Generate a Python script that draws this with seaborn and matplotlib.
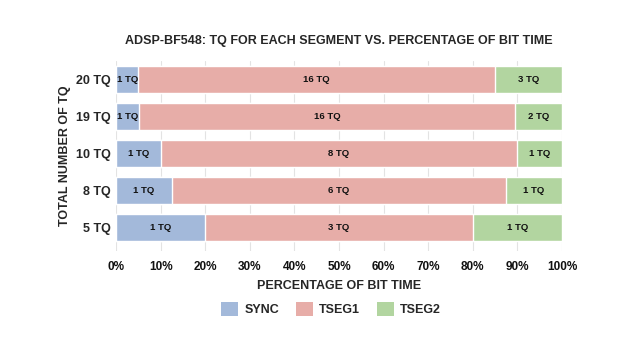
import matplotlib
matplotlib.use("Agg")
import matplotlib.pyplot as plt
import seaborn as sns
import pandas as pd
import numpy as np
from matplotlib.patches import Patch

categories = ["20 TQ", "19 TQ", "10 TQ", "8 TQ", "5 TQ"]
total_tq = [20, 19, 10, 8, 5]
sync_tq = [1, 1, 1, 1, 1]
tseg1_tq = [16, 16, 8, 6, 3]
tseg2_tq = [3, 2, 1, 1, 1]
series_names = ["SYNC", "TSEG1", "TSEG2"]
colors = ["#A3B9DA", "#E7ADA8", "#B2D5A0"]

sns.set_theme(style="white")
plt.rcParams["font.family"] = ["Liberation Sans", "DejaVu Sans"]
plt.rcParams["font.weight"] = "bold"

tot = np.array(total_tq, float)
sync_p = np.array(sync_tq) / tot * 100
t1_p = np.array(tseg1_tq) / tot * 100
t2_p = np.array(tseg2_tq) / tot * 100

df = pd.DataFrame({
    "cat": categories,
    "c1": sync_p,
    "c2": sync_p + t1_p,
    "c3": sync_p + t1_p + t2_p,
})

fig = plt.figure(figsize=(6.31, 3.5), dpi=100)
ax = fig.add_axes([0.1838, 1 - 251 / 350, 0.7068, (251 - 61) / 350])

for col, c in zip(["c3", "c2", "c1"], colors[::-1]):
    sns.barplot(data=df, y="cat", x=col, order=categories, orient="h",
                color=c, saturation=1, width=0.73, ax=ax, zorder=3)

ax.set_xlim(0, 100)
ax.set_ylim(4.63, -0.5)
ax.set_xticks(np.arange(0, 101, 10))
ax.set_xticklabels([f"{v}%" for v in range(0, 101, 10)], fontsize=8.5, fontweight="bold")
ax.tick_params(axis="x", length=0, pad=7, colors="#111111")
ax.tick_params(axis="y", length=0, pad=4)
for lab in ax.get_yticklabels():
    lab.set_fontsize(9)
    lab.set_fontweight("bold")
ax.xaxis.grid(True, color="#E3E3E3", linewidth=0.8, zorder=0)
ax.set_axisbelow(True)
for s in ax.spines.values():
    s.set_visible(False)

# segment labels
segs = [sync_tq, tseg1_tq, tseg2_tq]
starts = [np.zeros(5), sync_p, sync_p + t1_p]
widths = [sync_p, t1_p, t2_p]
for k in range(3):
    for i in range(5):
        ax.text(starts[k][i] + widths[k][i] / 2, i, f"{segs[k][i]} TQ",
                ha="center", va="center", fontsize=6.8, fontweight="bold",
                color="#111111", zorder=5)

ax.set_xlabel("PERCENTAGE OF BIT TIME", fontsize=9, fontweight="bold", labelpad=5)
ax.set_ylabel("TOTAL NUMBER OF TQ", fontsize=9, fontweight="bold", labelpad=3)
fig.suptitle("ADSP-BF548: TQ FOR EACH SEGMENT VS. PERCENTAGE OF BIT TIME",
             x=0.537, y=0.9, fontsize=9, fontweight="bold")

handles = [Patch(facecolor=c, edgecolor="none") for c in colors]
fig.legend(handles, series_names, loc="center", bbox_to_anchor=(0.525, 1 - 309 / 350),
           ncol=3, frameon=False, handlelength=1.35, handleheight=1.35,
           columnspacing=1.35, handletextpad=0.5, prop={"weight": "bold", "size": 9})

fig.savefig("out.png", dpi=100)
